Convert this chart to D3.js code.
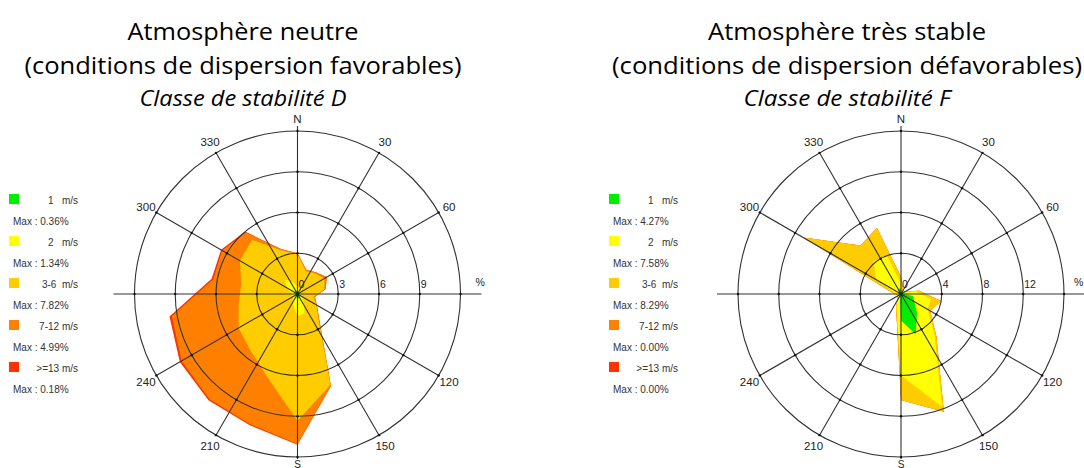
<!DOCTYPE html>
<html><head><meta charset="utf-8">
<script src="https://cdn.jsdelivr.net/npm/d3@7"></script>
<style>body{margin:0;background:#fff}svg{display:block}</style>
</head><body><svg id="c" width="1084" height="468"></svg>
<script>
// ---------- data ----------
const directions = [0,20,40,60,80,100,120,140,160,180,200,220,240,260,280,300,320,340];
const speedClasses = ["1   m/s","2   m/s","3-6  m/s","7-12 m/s",">=13 m/s"];
const compassLabels = ["N","30","60","","120","150","S","210","240","","300","330"];

// Classe de stabilité D (% frequency per direction, per speed class)
const d_1ms   = [0.20,0.15,0.12,0.10,0.10,0.12,0.15,0.20,0.36,0.30,0.25,0.15,0.12,0.12,0.15,0.20,0.30,0.25];
const d_2ms   = [0.30,0.25,0.18,0.20,0.20,0.18,0.25,0.50,1.14,1.34,0.65,0.35,0.28,0.28,0.35,0.70,1.10,0.65];
const d_3_6ms = [2.40,1.40,1.70,2.00,1.70,0.90,1.20,1.70,5.60,7.70,5.60,4.90,4.60,4.00,3.70,4.00,3.80,2.50];
const d_7_12ms= [0.10,0.10,0.10,0.20,0.10,0.10,0.05,0.10,0.10,1.70,3.70,4.70,4.85,4.99,2.10,1.50,0.70,0.10];
const d_13ms  = [0.00,0.00,0.00,0.00,0.00,0.00,0.00,0.00,0.00,0.05,0.08,0.10,0.15,0.18,0.12,0.10,0.10,0.02];
const d_maxLabels = ["Max : 0.36%","Max : 1.34%","Max : 7.82%","Max : 4.99%","Max : 0.18%"];
const d_ringTicks = [0,3,6,9];
const d_rMax = 12;

// Classe de stabilité F
const f_1ms   = [0.50,0.20,0.10,0.10,0.20,1.20,1.50,2.45,4.20,2.60,0.30,0.10,0.10,0.10,0.20,0.30,0.40,0.60];
const f_2ms   = [0.50,0.20,0.20,0.30,1.30,1.80,1.50,2.65,7.58,5.40,1.00,0.30,0.20,0.20,0.40,2.50,3.80,3.40];
const f_3_6ms = [0.70,0.10,0.10,0.10,0.30,1.00,0.30,0.30,0.52,2.40,0.10,0.10,0.10,0.10,0.30,8.29,2.00,2.90];
const f_7_12ms= [0,0,0,0,0,0,0,0,0,0,0,0,0,0,0,0,0,0];
const f_13ms  = [0,0,0,0,0,0,0,0,0,0,0,0,0,0,0,0,0,0];
const f_maxLabels = ["Max : 4.27%","Max : 7.58%","Max : 8.29%","Max : 0.00%","Max : 0.00%"];
const f_ringTicks = [0,4,8,12];
const f_rMax = 16;

const titlesD = ["Atmosphère neutre","(conditions de dispersion favorables)","Classe de stabilité D"];
const titlesF = ["Atmosphère très stable","(conditions de dispersion défavorables)","Classe de stabilité F"];

// ---------- drawing ----------
const svg = d3.select("#c");
const color = d3.scaleOrdinal().domain(speedClasses)
  .range(["#00ee00","#ffff00","#ffcc00","#ff8000","#ff3300"]);
const angle = d3.scaleLinear().domain([0,360]).range([0,2*Math.PI]);
const R = 163;
const FONT = "Liberation Sans, Arial, sans-serif";

function rose(cx, cy, series, ringTicks, rMax, maxLabels, legendX, titles, titleX, titleW) {
  const g = svg.append("g").attr("transform",`translate(${cx},${cy})`);
  const r = d3.scaleLinear().domain([0,rMax]).range([0,R]);
  const rows = directions.map((dir,i)=>{
    const o = {dir};
    speedClasses.forEach((k,j)=>o[k]=series[j][i]);
    return o;
  });
  const stacked = d3.stack().keys(speedClasses)(rows);
  const line = d3.lineRadial()
    .angle(d=>angle(d.data.dir))
    .radius(d=>r(d[1]))
    .curve(d3.curveLinearClosed);
  g.selectAll("path.layer").data(stacked.slice().reverse()).enter()
    .append("path").attr("class","layer")
    .attr("d",d=>line(d))
    .attr("fill",d=>color(d.key))
    .attr("stroke","none");

  const ringVals = d3.range(1,5).map(i=>i*rMax/4);
  g.selectAll("circle.ring").data(ringVals).enter().append("circle")
    .attr("r",d=>r(d)).attr("fill","none").attr("stroke","#333").attr("stroke-width",1.1);
  const spokes = d3.range(0,360,30);
  g.selectAll("line.spoke").data(spokes.filter(a=>a%90!==0)).enter().append("line")
    .attr("x1",0).attr("y1",0)
    .attr("x2",a=>R*Math.sin(angle(a))).attr("y2",a=>-R*Math.cos(angle(a)))
    .attr("stroke","#333").attr("stroke-width",1.1);
  g.append("line").attr("x1",-R-21).attr("x2",Math.min(R+21,1084-cx)).attr("y1",0).attr("y2",0)
    .attr("stroke","#333").attr("stroke-width",1.1);
  g.append("line").attr("y1",-R-5).attr("y2",R+2).attr("x1",0).attr("x2",0)
    .attr("stroke","#333").attr("stroke-width",1.1);
  const inter = [];
  ringVals.forEach(v=>spokes.forEach(a=>inter.push([v,a])));
  g.selectAll("circle.tk").data(inter).enter().append("circle")
    .attr("cx",d=>r(d[0])*Math.sin(angle(d[1])))
    .attr("cy",d=>-r(d[0])*Math.cos(angle(d[1])))
    .attr("r",1.2).attr("fill","#111");
  // compass labels
  g.selectAll("text.cmp").data(spokes.filter(a=>a!==180)).enter().append("text")
    .attr("x",a=>(R+12)*Math.sin(angle(a)))
    .attr("y",a=>-(R+12)*Math.cos(angle(a)))
    .attr("text-anchor","middle").attr("dominant-baseline","central")
    .attr("font-family",FONT).attr("font-size",11.5)
    .attr("fill","#222")
    .text(a=>compassLabels[a/30]);
  g.append("text").attr("x",0).attr("y",R+10.5)
    .attr("text-anchor","middle")
    .attr("font-family",FONT).attr("font-size",10)
    .attr("fill","#222").text(compassLabels[6]);
  g.selectAll("text.rt").data(ringTicks).enter().append("text")
    .attr("x",d=>r(d)+1).attr("y",-6)
    .attr("font-family",FONT).attr("font-size",10.5)
    .attr("fill","#222").text(d=>d);
  g.append("text").attr("x",Math.min(R+15,1074-cx)).attr("y",-8)
    .attr("font-family",FONT).attr("font-size",10.5)
    .attr("fill","#222").text("%");
  g.append("circle").attr("r",2).attr("fill","#0a3a0a");

  // legend
  const lg = svg.append("g").attr("transform",`translate(${legendX},194)`);
  const items = lg.selectAll("g").data(speedClasses).enter().append("g")
    .attr("transform",(d,i)=>`translate(0,${i*42})`);
  items.append("rect").attr("x",0).attr("y",0).attr("width",10).attr("height",10)
    .attr("fill",d=>color(d));
  items.append("text").attr("x",69).attr("y",9.5).attr("text-anchor","end")
    .attr("xml:space","preserve").style("white-space","pre")
    .attr("font-family",FONT).attr("font-size",10)
    .attr("fill","#333").text(d=>d);
  items.append("text").attr("x",4).attr("y",31)
    .attr("font-family",FONT).attr("font-size",10)
    .attr("fill","#333").text((d,i)=>maxLabels[i]);

  // titles
  const ty = [40,74,106];
  titles.forEach((t,i)=>{
    svg.append("text").attr("x",titleX).attr("y",ty[i]).attr("text-anchor","middle")
      .attr("font-family","Open Sans, Noto Sans, sans-serif")
      .attr("font-size",i===2?21:24)
      .attr("font-style",i===2?"italic":"normal")
      .attr("fill","#000")
      .attr("textLength",titleW[i]).attr("lengthAdjust","spacingAndGlyphs")
      .text(t);
  });
}

rose(297.5,294,[d_1ms,d_2ms,d_3_6ms,d_7_12ms,d_13ms],d_ringTicks,d_rMax,d_maxLabels,9,titlesD,243,[231,437,207]);
rose(901,294,[f_1ms,f_2ms,f_3_6ms,f_7_12ms,f_13ms],f_ringTicks,f_rMax,f_maxLabels,609,titlesF,847,[278,470,207]);
</script></body></html>
